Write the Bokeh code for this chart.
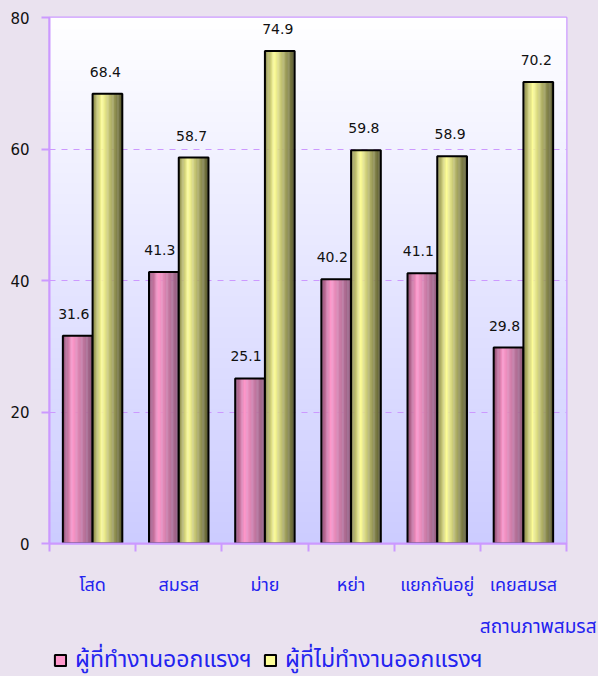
import numpy as np
from bokeh.plotting import figure
from bokeh.layouts import column
from bokeh.models import (Range1d, FixedTicker, ColumnDataSource, LabelSet,
                          Legend, LegendItem, Label)
from bokeh.core.properties import value
from bokeh.embed import file_html
from bokeh.resources import INLINE

# ---------------- data ----------------
categories = ["โสด", "สมรส", "ม่าย", "หย่า", "แยกกันอยู่", "เคยสมรส"]
working = [31.6, 41.3, 25.1, 40.2, 41.1, 29.8]
not_working = [68.4, 58.7, 74.9, 59.8, 58.9, 70.2]
series_names = ["ผู้ที่ทำงานออกแรงฯ", "ผู้ที่ไม่ทำงานออกแรงฯ"]
y_ticks = [0, 20, 40, 60, 80]
x_title = "สถานภาพสมรส"

# ---------------- style ----------------
THAI = "Tahoma, 'Noto Sans Thai', 'Noto Sans Thai UI', Loma, Garuda, Waree, 'DejaVu Sans', sans-serif"
NUM = "Tahoma, 'DejaVu Sans', sans-serif"
BLUE = "#2323F0"
PURPLE = "#CC99FF"
PAGE_BG = "#EAE2EF"
PINK_LIGHT, YELLOW_LIGHT = "#FF99CC", "#FFFF99"

W = 598
LEFT = 49
TOP_H = 610
BOT_H = 676 - TOP_H

p = figure(frame_width=517, frame_height=526,
           min_border_left=LEFT, min_border_top=17, min_border_right=32,
           min_border_bottom=TOP_H - 17 - 526,
           x_range=Range1d(-0.5, len(categories) - 0.5), y_range=Range1d(0, 80),
           output_backend="svg", toolbar_location=None)
p.border_fill_color = PAGE_BG
p.background_fill_color = "#FFFFFF"
p.outline_line_color = PURPLE
p.outline_line_width = 2

# background gradient (white at top -> lavender at bottom)
n = 256
img = np.empty((n, 2), dtype=np.uint32)
view = img.view(dtype=np.uint8).reshape((n, 2, 4))
t = np.linspace(0, 1, n)  # 0 bottom, 1 top
bottom_c = np.array([204, 204, 255])
top_c = np.array([255, 255, 255])
cols = (bottom_c[None, :] + (top_c - bottom_c)[None, :] * t[:, None]).astype(np.uint8)
for j in range(2):
    view[:, j, 0] = cols[:, 0]
    view[:, j, 1] = cols[:, 1]
    view[:, j, 2] = cols[:, 2]
    view[:, j, 3] = 255
p.image_rgba(image=[img], x=-0.5, y=0, dw=len(categories), dh=80, level="image")

# ---------------- bars ----------------
BAR_W = 0.345
N_STRIPS = 24


def hex2rgb(h):
    h = h.lstrip("#")
    return np.array([int(h[i:i + 2], 16) for i in (0, 2, 4)], dtype=float)


def grad(tt, dl, lt, dr, peak=0.32):
    dl, lt, dr = hex2rgb(dl), hex2rgb(lt), hex2rgb(dr)
    if tt < peak:
        f = tt / peak
        c = dl + (lt - dl) * f
    else:
        f = (tt - peak) / (1 - peak)
        c = lt + (dr - lt) * f
    c = np.clip(c, 0, 255).astype(int)
    return "#%02x%02x%02x" % tuple(c)


series = [
    (working, -BAR_W / 2, ("#8A4C70", PINK_LIGHT, "#8C5A7A"), -4),
    (not_working, BAR_W / 2, ("#84844A", YELLOW_LIGHT, "#55552C"), -2),
]

for values, off, (dl, lt, dr), lab_dx in series:
    xs = [i + off for i in range(len(categories))]
    sx, st, sc = [], [], []
    for k in range(N_STRIPS):
        tc = (k + 0.5) / N_STRIPS
        col = grad(tc, dl, lt, dr)
        for i, v in enumerate(values):
            sx.append(i + off - BAR_W / 2 + tc * BAR_W)
            st.append(v)
            sc.append(col)
    src = ColumnDataSource(dict(x=sx, top=st, color=sc))
    p.vbar(x="x", top="top", bottom=0, width=BAR_W / N_STRIPS * 1.2, fill_color="color",
           line_color=None, source=src)
    p.vbar(x=xs, top=values, bottom=0, width=BAR_W, fill_color=None,
           line_color="black", line_width=2)
    lsrc = ColumnDataSource(dict(x=xs, y=values, text=["%.1f" % v for v in values]))
    p.add_layout(LabelSet(x="x", y="y", text="text", source=lsrc, text_align="center",
                          text_baseline="middle", y_offset=22, x_offset=lab_dx,
                          text_font=value(NUM), text_font_size="14px", text_color="#111111"))

# ---------------- axes ----------------
p.xgrid.visible = False
p.ygrid.grid_line_color = PURPLE
p.ygrid.grid_line_dash = "6 6"

xa = p.xaxis[0]
xa.ticker = FixedTicker(ticks=list(range(len(categories))),
                        minor_ticks=[i - 0.5 for i in range(len(categories) + 1)])
xa.major_label_overrides = {i: c for i, c in enumerate(categories)}
xa.major_tick_out = 0
xa.major_tick_in = 0
xa.minor_tick_out = 8
xa.minor_tick_in = 0
xa.minor_tick_line_color = PURPLE
xa.minor_tick_line_width = 2
xa.axis_line_color = PURPLE
xa.axis_line_width = 2
xa.major_label_standoff = 20
xa.major_label_text_font = THAI
xa.major_label_text_font_size = "18px"
xa.major_label_text_color = BLUE

ya = p.yaxis[0]
ya.ticker = FixedTicker(ticks=y_ticks)
ya.major_tick_out = 8
ya.major_tick_in = 0
ya.minor_tick_line_color = None
ya.major_tick_line_color = PURPLE
ya.major_tick_line_width = 2
ya.axis_line_color = PURPLE
ya.axis_line_width = 2
ya.major_label_standoff = 12
ya.major_label_text_font = NUM
ya.major_label_text_font_size = "15px"
ya.major_label_text_color = "#111111"

# ---------------- lower strip: axis title + legend ----------------
q = figure(frame_width=W - LEFT, frame_height=BOT_H,
           min_border_left=LEFT, min_border_right=0, min_border_top=0, min_border_bottom=0,
           x_range=Range1d(LEFT, W), y_range=Range1d(0, BOT_H),
           x_axis_location=None, y_axis_location=None,
           output_backend="svg", toolbar_location=None)
q.grid.visible = False
q.outline_line_color = None
q.background_fill_color = PAGE_BG
q.border_fill_color = PAGE_BG

q.add_layout(Label(x=W - 2, y=BOT_H - 17, text=x_title, text_align="right",
                   text_baseline="middle", text_font=THAI, text_font_size="19px",
                   text_color=BLUE))

swatches = []
for colr in (PINK_LIGHT, YELLOW_LIGHT):
    swatches.append(q.vbar(x=[LEFT], top=[1], bottom=0, width=1, fill_color=colr,
                           line_color="black", line_width=2, visible=False))

leg = Legend(items=[LegendItem(label=nm, renderers=[r]) for nm, r in zip(series_names, swatches)],
             location=(4, -1), orientation="horizontal", background_fill_alpha=0,
             border_line_color=None, padding=0, margin=0, spacing=8,
             glyph_width=14, glyph_height=14, label_standoff=8, label_width=180,
             label_height=22, label_text_font=THAI, label_text_font_size="23px",
             label_text_color=BLUE)
q.add_layout(leg, "center")

layout = column(p, q, spacing=0)
html = file_html(layout, INLINE)
html = html.replace("<head>", "<head><style>html,body{background:%s;}</style>" % PAGE_BG, 1)
open("out.html", "w").write(html)
